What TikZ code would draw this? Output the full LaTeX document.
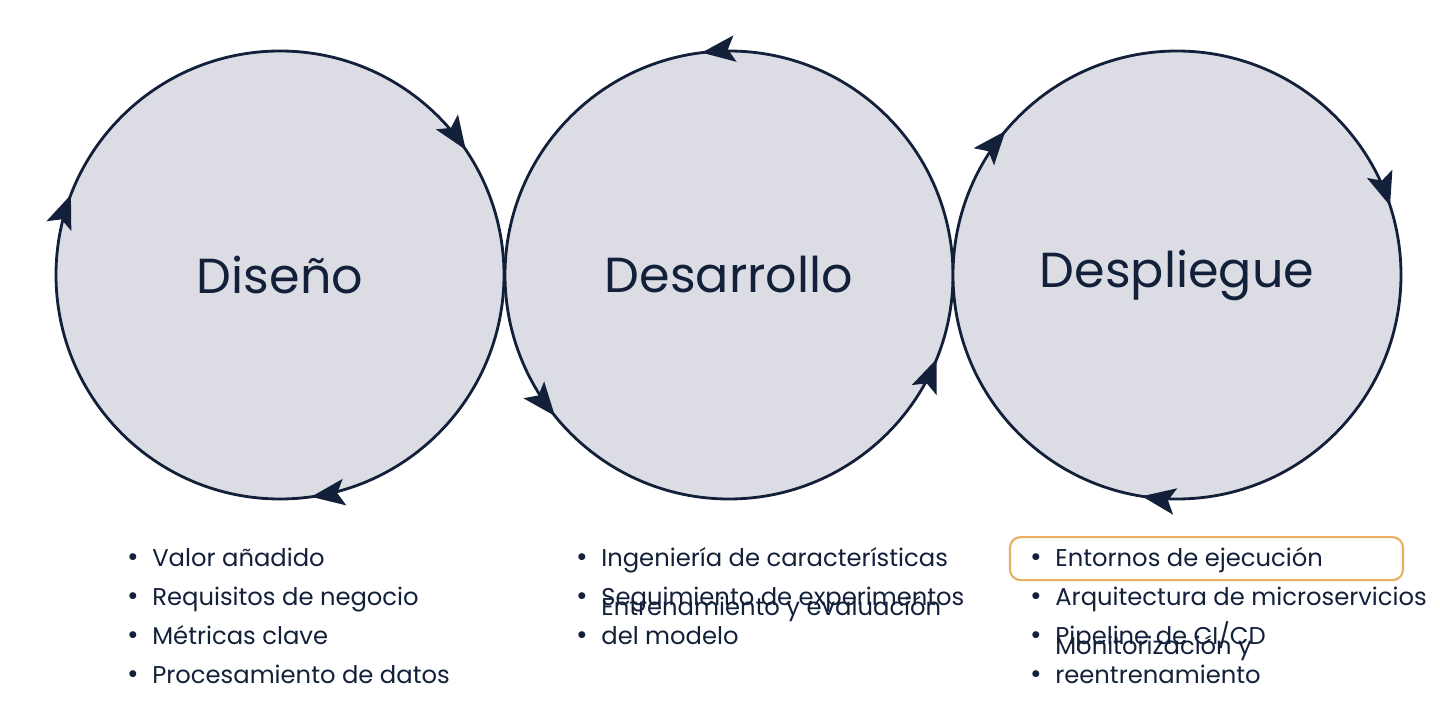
\documentclass[tikz,border=0pt]{standalone}
\usepackage{fontspec}
\setmainfont{Poppins}
\usetikzlibrary{arrows.meta}
\definecolor{ink}{HTML}{13203A}
\definecolor{disc}{HTML}{DCDCE4}
\definecolor{hilite}{HTML}{E8B060}
\tikzset{
    phase/.style = {circle, draw = ink, line width = 1.6pt, fill = disc,
        minimum size = 8.96cm, font = \fontsize{28}{32}\selectfont, text = ink},
    item/.style = {anchor = base west, inner sep = 0pt, align = left, text = ink,
        font = \fontsize{13.8}{16.5}\selectfont},
    dot/.style = {anchor = base, inner sep = 0pt, text = ink,
        font = \fontsize{16}{17}\selectfont},
    tip/.style = {draw = ink, line width = 1.6pt,
        -{Stealth[length = 19pt, width = 15pt, inset = 4pt]}}
}
% clockwise / counterclockwise arrow heads on a circle
\newcommand{\cwtip}[2]{\draw[tip] ([shift={(#2+6:4.48)}]#1.center) arc[start angle = #2+6, end angle = #2, radius = 4.48];}
\newcommand{\ccwtip}[2]{\draw[tip] ([shift={(#2-6:4.48)}]#1.center) arc[start angle = #2-6, end angle = #2, radius = 4.48];}
\begin{document}
\begin{tikzpicture}
    \useasboundingbox[fill = white] (0, 0) rectangle (28.8, 14.4);
    \node (dis) [phase] at (5.6, 8.9) {Diseño};
    \node (des) [phase] at (14.58, 8.9) {Desarrollo};
    \node (dep) [phase] at (23.54, 8.9) {Despliegue};
    \cwtip{dis}{34}
    \cwtip{dis}{159}
    \cwtip{dis}{-82}
    \ccwtip{des}{97}
    \ccwtip{des}{219}
    \ccwtip{des}{-22}
    \cwtip{dep}{140}
    \cwtip{dep}{18}
    \cwtip{dep}{-99}
    % lists
    \foreach \t [count = \i] in {Valor añadido, Requisitos de negocio, Métricas clave, Procesamiento de datos} {
        \node (a\i) [item] at (3.04, 14.4 - 0.02*566 - 0.785*\i + 0.785) {\t};
        \node [dot] at (2.66, 14.4 - 0.02*566 - 0.785*\i + 0.785) {•};
    }
    \foreach \t [count = \i] in {Ingeniería de características, Seguimiento de experimentos, Entrenamiento y evaluación\\del modelo} {
        \node (b\i) [item] at (12.02, 14.4 - 0.02*566 - 0.785*\i + 0.785) {\t};
        \node [dot] at (11.64, 14.4 - 0.02*566 - 0.785*\i + 0.785) {•};
    }
    \foreach \t [count = \i] in {Entornos de ejecución, Arquitectura de microservicios, Pipeline de CI/CD, Monitorización y\\reentrenamiento} {
        \node (c\i) [item] at (21.1, 14.4 - 0.02*566 - 0.785*\i + 0.785) {\t};
        \node [dot] at (20.72, 14.4 - 0.02*566 - 0.785*\i + 0.785) {•};
    }
    \draw[hilite, line width = 1.2pt, rounded corners = 6pt]
        (20.2, 14.4 - 0.02*537) rectangle (28.06, 14.4 - 0.02*580);
\end{tikzpicture}
\end{document}
